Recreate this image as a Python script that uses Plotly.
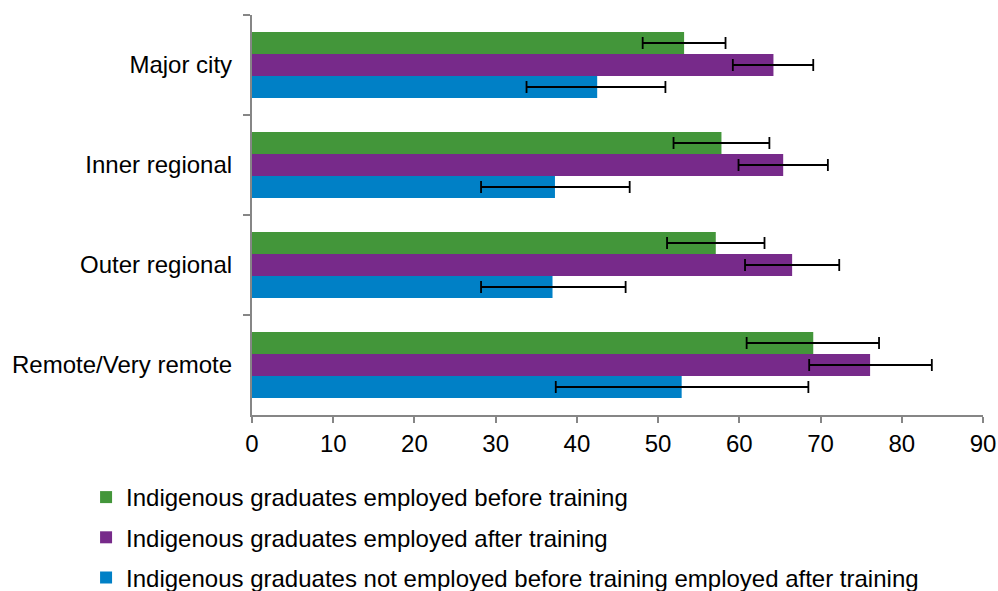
import plotly.graph_objects as go

categories = ["Major city", "Inner regional", "Outer regional", "Remote/Very remote"]
series_names = [
    "Indigenous graduates employed before training",
    "Indigenous graduates employed after training",
    "Indigenous graduates not employed before training employed after training",
]
before_vals = [53.2, 57.8, 57.1, 69.1]
before_lo = [48.1, 51.9, 51.1, 60.9]
before_hi = [58.3, 63.7, 63.1, 77.2]
after_vals = [64.2, 65.4, 66.5, 76.1]
after_lo = [59.2, 59.9, 60.7, 68.6]
after_hi = [69.1, 70.9, 72.3, 83.7]
notemp_vals = [42.5, 37.3, 37.0, 52.9]
notemp_lo = [33.8, 28.2, 28.2, 37.4]
notemp_hi = [50.9, 46.5, 46.0, 68.5]
colors = ["#43963A", "#772A8A", "#0080C6"]

fig = go.Figure()
for i, (name, v, lo, hi, c) in enumerate(zip(
        series_names,
        [before_vals, after_vals, notemp_vals],
        [before_lo, after_lo, notemp_lo],
        [before_hi, after_hi, notemp_hi],
        colors)):
    fig.add_trace(go.Bar(
        y=categories, x=v, orientation="h", name=name,
        marker=dict(color=c, line=dict(width=0)),
        legendgroup=str(i),
        error_x=dict(type="data", symmetric=False,
                     array=[h - a for h, a in zip(hi, v)],
                     arrayminus=[a - l for a, l in zip(v, lo)],
                     color="black", thickness=1.8, width=6),
    ))

fig.update_layout(
    width=998, height=591,
    margin=dict(l=252, r=15, t=15, b=176, autoexpand=False),
    barmode="group", bargap=0.34, bargroupgap=0,
    plot_bgcolor="white", paper_bgcolor="white",
    font=dict(family="Liberation Sans, Arial", size=24, color="black"),
    legend=dict(orientation="v", x=-0.227, xanchor="left", y=-0.15, yanchor="top",
                traceorder="grouped", tracegroupgap=6,
                font=dict(size=24), itemwidth=30, bgcolor="rgba(0,0,0,0)"),
    xaxis=dict(range=[0, 90], dtick=10, showgrid=False, zeroline=False,
               showline=True, linecolor="#868686", linewidth=1.5,
               ticks="outside", ticklen=6, tickcolor="#868686", tickwidth=1.5,
               tickfont=dict(size=24), automargin=False),
    yaxis=dict(autorange="reversed", showgrid=False, zeroline=False,
               showline=True, linecolor="#868686", linewidth=1.5,
               ticks="outside", ticklen=7, tickcolor="#868686", tickwidth=1.5,
               tickson="boundaries", tickfont=dict(size=24), ticksuffix="  ",
               automargin=False),
)

fig.write_html("out.html", config={"displayModeBar": False})

# remove the default page margin so the figure sits at the window's top-left corner
with open("out.html", "r", encoding="utf-8") as f:
    html = f.read()
html = html.replace("<head>", "<head><style>html,body{margin:0;padding:0;overflow:hidden;}</style>", 1)
with open("out.html", "w", encoding="utf-8") as f:
    f.write(html)
